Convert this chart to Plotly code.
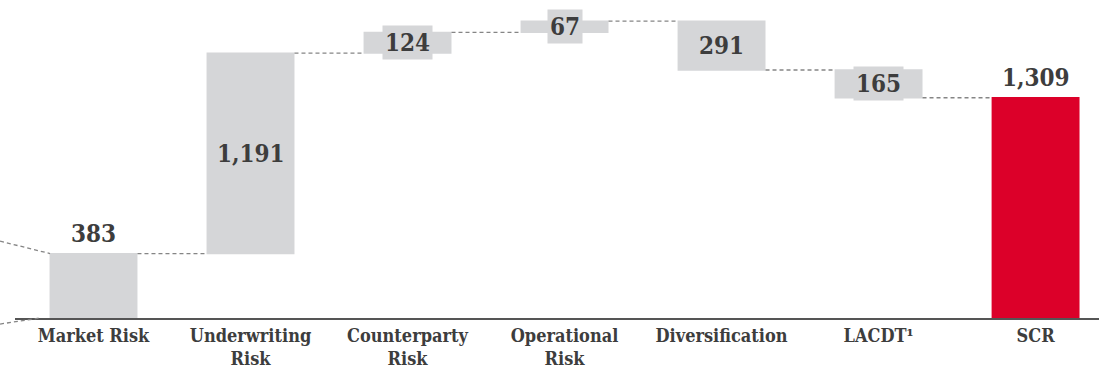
import plotly.graph_objects as go

# Solvency capital requirement build-up (EUR m)
categories = ["Market Risk", "Underwriting<br>Risk", "Counterparty<br>Risk",
              "Operational<br>Risk", "Diversification", "LACDT¹", "SCR"]
values = [383, 1191, 124, 67, -291, -165, 1309]
measures = ["relative", "relative", "relative", "relative", "relative", "relative", "total"]
label_inside = [False, True, True, True, True, True, False]

GREY = "#d5d6d8"
RED = "#dc0029"
TEXT = "#3d3d3d"
FONT = "DejaVu Serif Condensed, DejaVu Serif, serif"

fig = go.Figure(go.Waterfall(
    x=list(range(len(categories))),
    y=values,
    measure=measures,
    increasing=dict(marker=dict(color=GREY, line=dict(width=0))),
    decreasing=dict(marker=dict(color=GREY, line=dict(width=0))),
    totals=dict(marker=dict(color=RED, line=dict(width=0))),
    connector=dict(mode="between", line=dict(color="#858585", width=1.3, dash="4px,3px")),
    textinfo="none",
    hoverinfo="skip",
))

# value labels: inside the bar on a grey plate, or above the bar
running = 0
for i, (v, m) in enumerate(zip(values, measures)):
    if m == "total":
        lo, hi = 0, v
        running = v
    else:
        lo, hi = sorted([running, running + v])
        running += v
    txt = f"{abs(v):,}"
    if label_inside[i]:
        fig.add_annotation(x=i, y=(lo + hi) / 2, text=f"<b>{txt}</b>", showarrow=False,
                           font=dict(family=FONT, size=24, color=TEXT),
                           bgcolor=GREY, borderpad=2)
    else:
        fig.add_annotation(x=i, y=hi, text=f"<b>{txt}</b>", showarrow=False,
                           yanchor="bottom", yshift=4,
                           font=dict(family=FONT, size=24, color=TEXT))

# faint lead-in dashes at the left edge
for x0, y0, x1, y1 in [(-0.0138, 0.2416, 0.0323, values[0] / 1890),
                       (-0.0138, -0.019, 0.023, 0.0)]:
    fig.add_shape(type="line", xref="paper", yref="paper", x0=x0, y0=y0, x1=x1, y1=y1,
                  line=dict(color="#858585", width=1.3, dash="4px,3px"))

fig.update_layout(
    width=1099, height=369,
    margin=dict(l=15, r=0, t=0, b=49),
    paper_bgcolor="white", plot_bgcolor="white",
    waterfallgap=0.44,
    showlegend=False,
    xaxis=dict(
        range=[-0.5, 6.404],
        tickmode="array",
        tickvals=list(range(len(categories))),
        ticktext=[f"<b>{c}</b>" for c in categories],
        tickfont=dict(family=FONT, size=18, color=TEXT),
        showline=True, linecolor="#555555", linewidth=2,
        showgrid=False, zeroline=False, ticks="",
    ),
    yaxis=dict(range=[0, 1890], visible=False, showgrid=False, zeroline=False),
)

fig.write_html("out.html")
